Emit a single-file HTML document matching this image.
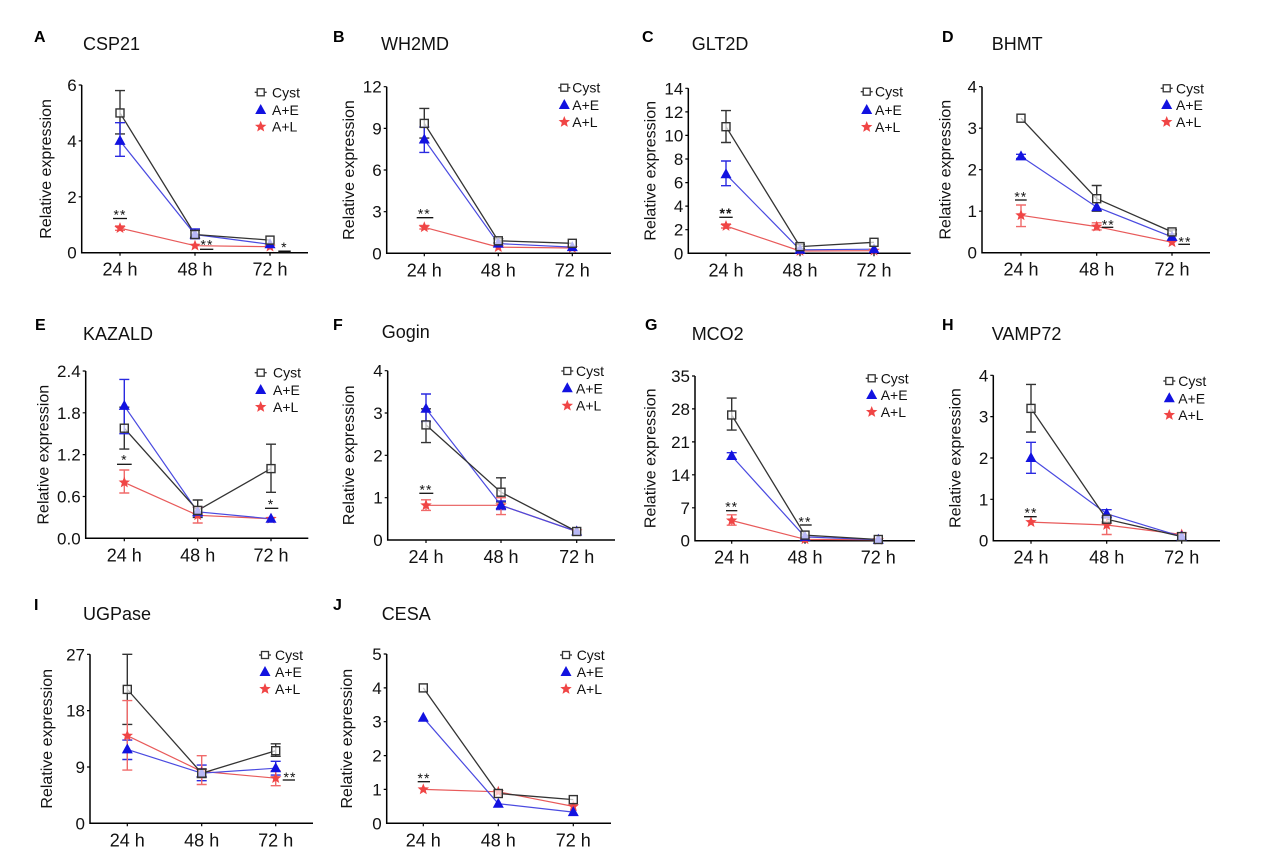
<!DOCTYPE html>
<html><head><meta charset="utf-8"><style>
html,body{margin:0;padding:0;background:#fff;}
svg{display:block;font-family:"Liberation Sans",Arial,sans-serif;}
.ax{stroke:#000;stroke-width:1.5;fill:none;}
.tk{stroke:#000;stroke-width:1.2;fill:none;}
.lt{font-size:16px;font-weight:bold;fill:#000;}
.ti{font-size:18px;fill:#111;}
.yt{font-size:17px;fill:#111;text-anchor:end;}
.xt{font-size:18px;fill:#111;text-anchor:middle;}
.yl{font-size:16px;fill:#111;text-anchor:middle;}
.lg{font-size:14px;fill:#111;}
.lc{stroke:#333;stroke-width:1.3;fill:none;}
.le{stroke:#4a4ae0;stroke-width:1.2;fill:none;}
.ll{stroke:#e85a5a;stroke-width:1.2;fill:none;}
.ec{stroke:#333;stroke-width:1.4;fill:none;}
.ee{stroke:#2a2ae0;stroke-width:1.4;fill:none;}
.el{stroke:#f06a6a;stroke-width:1.4;fill:none;}
.sg{font-size:14px;fill:#111;text-anchor:middle;letter-spacing:1px;}
.sl{stroke:#111;stroke-width:1.3;fill:none;}
</style></head><body>
<svg width="1274" height="860" viewBox="0 0 1274 860" xmlns="http://www.w3.org/2000/svg">
<defs>
<g id="sq"><rect x="-4" y="-4" width="8" height="8" fill="#fff" fill-opacity="0.7" stroke="#333" stroke-width="1.4"/></g>
<g id="tri"><polygon points="0,-6 5.5,4 -5.5,4" fill="#1212e0"/></g>
<g id="st"><polygon points="0,-6 1.53,-2.10 5.71,-1.85 2.47,0.80 3.53,4.85 0,2.6 -3.53,4.85 -2.47,0.80 -5.71,-1.85 -1.53,-2.10" fill="#f04545"/></g>
<g id="lsq"><line x1="-6" y1="0" x2="6" y2="0" stroke="#333" stroke-width="1.3"/><rect x="-3.5" y="-3.5" width="7" height="7" fill="#fff" stroke="#333" stroke-width="1.3"/></g>
</defs>

<!-- ===== Panel A ===== -->
<text class="lt" x="34" y="42">A</text>
<text class="ti" x="83" y="50">CSP21</text>
<path class="ax" d="M81.7 85 V252.7 H308"/>
<path class="tk" d="M78.7 85H81.7M78.7 140.9H81.7M78.7 196.8H81.7M120 252.7v3M195 252.7v3M270 252.7v3"/>
<text class="yt" x="76.7" y="91">6</text><text class="yt" x="76.7" y="146.9">4</text><text class="yt" x="76.7" y="202.8">2</text><text class="yt" x="76.7" y="258.7">0</text>
<text class="xt" x="120" y="275.7">24 h</text><text class="xt" x="195" y="275.7">48 h</text><text class="xt" x="270" y="275.7">72 h</text>
<text class="yl" transform="translate(51,168.9) rotate(-90)">Relative expression</text>
<polyline class="ll" points="120,228.1 195,245.7 270,246.7"/>
<polyline class="le" points="120,140.9 195,234.5 270,244.3"/>
<polyline class="lc" points="120,112.95 195,234.5 270,240.1"/>
<path class="ec" d="M115 133.9H125M120 133.9V90.6M115 90.6H125M190 237.3H200M195 237.3V230.3M190 230.3H200"/>
<path class="ee" d="M115 156.3H125M120 156.3V122.7M115 122.7H125M190 238.7H200M195 238.7V228.9M190 228.9H200"/>
<path class="el" d="M115 230.3H125M120 230.3V225.9M115 225.9H125"/>
<use href="#st" x="120" y="228.1"/><use href="#st" x="195" y="245.7"/><use href="#st" x="270" y="246.7"/>
<use href="#tri" x="120" y="140.9"/><use href="#tri" x="195" y="234.5"/><use href="#tri" x="270" y="244.3"/>
<use href="#sq" x="120" y="112.95"/><use href="#sq" x="195" y="234.5"/><use href="#sq" x="270" y="240.1"/>
<text class="sg" x="120" y="219.7">**</text><path class="sl" d="M113 218.5H127"/>
<text class="sg" x="207" y="249.7">**</text><path class="sl" d="M200 249.3H213.3"/>
<text class="sg" x="284.3" y="252">*</text><path class="sl" d="M278.3 251.5H290.7" style="stroke-width:2"/>
<use href="#lsq" x="260.7" y="92.3"/><text class="lg" x="272" y="97.3">Cyst</text>
<use href="#tri" x="260.7" y="110"/><text class="lg" x="272" y="115">A+E</text>
<use href="#st" x="260.7" y="126.7"/><text class="lg" x="272" y="131.7">A+L</text>

<!-- ===== Panel B ===== -->
<text class="lt" x="333" y="42">B</text>
<text class="ti" x="381" y="50">WH2MD</text>
<path class="ax" d="M386.7 86.7 V253.3 H611"/>
<path class="tk" d="M383.7 86.7H386.7M383.7 128.4H386.7M383.7 170H386.7M383.7 211.7H386.7M424.3 253.3v3M498.3 253.3v3M572.3 253.3v3"/>
<text class="yt" x="381.7" y="92.7">12</text><text class="yt" x="381.7" y="134.4">9</text><text class="yt" x="381.7" y="176">6</text><text class="yt" x="381.7" y="217.7">3</text><text class="yt" x="381.7" y="259.3">0</text>
<text class="xt" x="424.3" y="276.3">24 h</text><text class="xt" x="498.3" y="276.3">48 h</text><text class="xt" x="572.3" y="276.3">72 h</text>
<text class="yl" transform="translate(354,170) rotate(-90)">Relative expression</text>
<polyline class="ll" points="424.3,227.3 498.3,247.1 572.3,248"/>
<polyline class="le" points="424.3,139.5 498.3,243.6 572.3,247.1"/>
<polyline class="lc" points="424.3,123.4 498.3,240.8 572.3,243.3"/>
<path class="ec" d="M419.3 138.1H429.3M424.3 138.1V108.4M419.3 108.4H429.3M493.3 242.9H503.3M498.3 242.9V238.7M493.3 238.7H503.3"/>
<path class="ee" d="M419.3 152.4H429.3M424.3 152.4V127M419.3 127H429.3"/>
<path class="el" d="M419.3 229H429.3M424.3 229V225.5M419.3 225.5H429.3"/>
<use href="#st" x="424.3" y="227.3"/><use href="#st" x="498.3" y="247.1"/><use href="#st" x="572.3" y="248"/>
<use href="#tri" x="424.3" y="139.5"/><use href="#tri" x="498.3" y="243.6"/><use href="#tri" x="572.3" y="247.1"/>
<use href="#sq" x="424.3" y="123.4"/><use href="#sq" x="498.3" y="240.8"/><use href="#sq" x="572.3" y="243.3"/>
<text class="sg" x="424.3" y="218.7">**</text><path class="sl" d="M416.7 217.7H433.3"/>
<use href="#lsq" x="564.3" y="87.7"/><text class="lg" x="572.3" y="92.7">Cyst</text>
<use href="#tri" x="564.3" y="105"/><text class="lg" x="572.3" y="110">A+E</text>
<use href="#st" x="564.3" y="122"/><text class="lg" x="572.3" y="127">A+L</text>

<!-- ===== Panel C ===== -->
<text class="lt" x="642" y="42">C</text>
<text class="ti" x="691.7" y="50">GLT2D</text>
<path class="ax" d="M688.3 88.3 V253.3 H910.7"/>
<path class="tk" d="M685.3 88.3H688.3M685.3 111.9H688.3M685.3 135.4H688.3M685.3 159H688.3M685.3 182.6H688.3M685.3 206.1H688.3M685.3 229.7H688.3M726 253.3v3M800 253.3v3M874 253.3v3"/>
<text class="yt" x="683.3" y="94.3">14</text><text class="yt" x="683.3" y="117.9">12</text><text class="yt" x="683.3" y="141.4">10</text><text class="yt" x="683.3" y="165">8</text><text class="yt" x="683.3" y="188.6">6</text><text class="yt" x="683.3" y="212.1">4</text><text class="yt" x="683.3" y="235.7">2</text><text class="yt" x="683.3" y="259.3">0</text>
<text class="xt" x="726" y="276.3">24 h</text><text class="xt" x="800" y="276.3">48 h</text><text class="xt" x="874" y="276.3">72 h</text>
<text class="yl" transform="translate(655.5,170.8) rotate(-90)">Relative expression</text>
<polyline class="ll" points="726,226 800,251 874,250.7"/>
<polyline class="le" points="726,174.3 800,249.8 874,249.2"/>
<polyline class="lc" points="726,126.7 800,246.6 874,242.3"/>
<path class="ec" d="M721 142.5H731M726 142.5V110.6M721 110.6H731M795 248.6H805M800 248.6V244.5M795 244.5H805"/>
<path class="ee" d="M721 185.7H731M726 185.7V161M721 161H731"/>
<path class="el" d="M721 228H731M726 228V224M721 224H731"/>
<use href="#st" x="726" y="226"/><use href="#st" x="800" y="251"/><use href="#st" x="874" y="250.7"/>
<use href="#tri" x="726" y="174.3"/><use href="#tri" x="800" y="249.8"/><use href="#tri" x="874" y="249.2"/>
<use href="#sq" x="726" y="126.7"/><use href="#sq" x="800" y="246.6"/><use href="#sq" x="874" y="242.3"/>
<text class="sg" x="726" y="218" style="font-weight:bold">**</text><path class="sl" d="M719.3 217.3H732.7"/>
<use href="#lsq" x="866.7" y="91.7"/><text class="lg" x="875" y="96.7">Cyst</text>
<use href="#tri" x="866.7" y="110"/><text class="lg" x="875" y="115">A+E</text>
<use href="#st" x="866.7" y="127"/><text class="lg" x="875" y="132">A+L</text>

<!-- ===== Panel D ===== -->
<text class="lt" x="942" y="42">D</text>
<text class="ti" x="991.7" y="50">BHMT</text>
<path class="ax" d="M982 86.7 V252.7 H1210"/>
<path class="tk" d="M979 86.7H982M979 128.2H982M979 169.7H982M979 211.2H982M1021 252.7v3M1096.7 252.7v3M1172 252.7v3"/>
<text class="yt" x="977" y="92.7">4</text><text class="yt" x="977" y="134.2">3</text><text class="yt" x="977" y="175.7">2</text><text class="yt" x="977" y="217.2">1</text><text class="yt" x="977" y="258.7">0</text>
<text class="xt" x="1021" y="275.7">24 h</text><text class="xt" x="1096.7" y="275.7">48 h</text><text class="xt" x="1172" y="275.7">72 h</text>
<text class="yl" transform="translate(950.5,169.7) rotate(-90)">Relative expression</text>
<polyline class="ll" points="1021,215.3 1096.7,226.6 1172,242.3"/>
<polyline class="le" points="1021,156.4 1096.7,207.1 1172,236.9"/>
<polyline class="lc" points="1021,118.2 1096.7,198.7 1172,231.9"/>
<path class="ec" d="M1091.7 211.2H1101.7M1096.7 211.2V185.5M1091.7 185.5H1101.7M1167 234H1177M1172 234V229.8M1167 229.8H1177"/>
<path class="ee" d="M1016 158.5H1026M1021 158.5V154.3M1016 154.3H1026"/>
<path class="el" d="M1016 226.6H1026M1021 226.6V205M1016 205H1026M1091.7 229.9H1101.7M1096.7 229.9V222.8M1091.7 222.8H1101.7"/>
<use href="#st" x="1021" y="215.3"/><use href="#st" x="1096.7" y="226.6"/><use href="#st" x="1172" y="242.3"/>
<use href="#tri" x="1021" y="156.4"/><use href="#tri" x="1096.7" y="207.1"/><use href="#tri" x="1172" y="236.9"/>
<use href="#sq" x="1021" y="118.2"/><use href="#sq" x="1096.7" y="198.7"/><use href="#sq" x="1172" y="231.9"/>
<text class="sg" x="1020.8" y="201.3">**</text><path class="sl" d="M1015 200H1026.7"/>
<text class="sg" x="1108.3" y="229.7">**</text><path class="sl" d="M1101.7 227.3H1113.3"/>
<text class="sg" x="1185" y="246.3">**</text><path class="sl" d="M1178.3 244.3H1190"/>
<use href="#lsq" x="1166.7" y="88.3"/><text class="lg" x="1176" y="93.3">Cyst</text>
<use href="#tri" x="1166.7" y="105"/><text class="lg" x="1176" y="110">A+E</text>
<use href="#st" x="1166.7" y="122"/><text class="lg" x="1176" y="127">A+L</text>

<!-- ===== Panel E ===== -->
<text class="lt" x="35" y="330">E</text>
<text class="ti" x="83" y="340">KAZALD</text>
<path class="ax" d="M85.7 371 V538.3 H308.3"/>
<path class="tk" d="M82.7 371H85.7M82.7 412.8H85.7M82.7 454.6H85.7M82.7 496.5H85.7M124.3 538.3v3M197.7 538.3v3M271 538.3v3"/>
<text class="yt" x="80.7" y="377">2.4</text><text class="yt" x="80.7" y="418.8">1.8</text><text class="yt" x="80.7" y="460.6">1.2</text><text class="yt" x="80.7" y="502.5">0.6</text><text class="yt" x="80.7" y="544.3">0.0</text>
<text class="xt" x="124.3" y="561.3">24 h</text><text class="xt" x="197.7" y="561.3">48 h</text><text class="xt" x="271" y="561.3">72 h</text>
<text class="yl" transform="translate(48.5,454.7) rotate(-90)">Relative expression</text>
<polyline class="ll" points="124.3,482.5 197.7,515.3 271,518.8"/>
<polyline class="le" points="124.3,405.9 197.7,511.8 271,518.8"/>
<polyline class="lc" points="124.3,428.2 197.7,510.4 271,468.6"/>
<path class="ec" d="M119.3 449.1H129.3M124.3 449.1V407.2M119.3 407.2H129.3M192.7 517.4H202.7M197.7 517.4V500M192.7 500H202.7M266 492.3H276M271 492.3V444.2M266 444.2H276"/>
<path class="ee" d="M119.3 433.7H129.3M124.3 433.7V379.4M119.3 379.4H129.3M192.7 516H202.7M197.7 516V507M192.7 507H202.7"/>
<path class="el" d="M119.3 493H129.3M124.3 493V470M119.3 470H129.3M192.7 523H202.7M197.7 523V507M192.7 507H202.7"/>
<use href="#st" x="124.3" y="482.5"/><use href="#st" x="197.7" y="515.3"/><use href="#st" x="271" y="518.8"/>
<use href="#tri" x="124.3" y="405.9"/><use href="#tri" x="197.7" y="511.8"/><use href="#tri" x="271" y="518.8"/>
<use href="#sq" x="124.3" y="428.2"/><use href="#sq" x="197.7" y="510.4"/><use href="#sq" x="271" y="468.6"/>
<text class="sg" x="124.3" y="464.7">*</text><path class="sl" d="M117 464.3H131.7"/>
<text class="sg" x="271" y="509">*</text><path class="sl" d="M265 508.3H278.3"/>
<use href="#lsq" x="260.7" y="372.7"/><text class="lg" x="273" y="377.7">Cyst</text>
<use href="#tri" x="260.7" y="390"/><text class="lg" x="273" y="395">A+E</text>
<use href="#st" x="260.7" y="407"/><text class="lg" x="273" y="412">A+L</text>

<!-- ===== Panel F ===== -->
<text class="lt" x="333" y="330">F</text>
<text class="ti" x="381.7" y="338">Gogin</text>
<path class="ax" d="M387.7 370.7 V540 H615"/>
<path class="tk" d="M384.7 370.7H387.7M384.7 413H387.7M384.7 455.3H387.7M384.7 497.7H387.7M426 540v3M501 540v3M576.7 540v3"/>
<text class="yt" x="382.7" y="376.7">4</text><text class="yt" x="382.7" y="419">3</text><text class="yt" x="382.7" y="461.3">2</text><text class="yt" x="382.7" y="503.7">1</text><text class="yt" x="382.7" y="546">0</text>
<text class="xt" x="426" y="563">24 h</text><text class="xt" x="501" y="563">48 h</text><text class="xt" x="576.7" y="563">72 h</text>
<text class="yl" transform="translate(353.8,455.3) rotate(-90)">Relative expression</text>
<polyline class="ll" points="426,505.3 501,505.3 576.7,531.5"/>
<polyline class="le" points="426,408.8 501,505.3 576.7,531.5"/>
<polyline class="lc" points="426,424.9 501,492.2 576.7,531.5"/>
<path class="ec" d="M421 442.6H431M426 442.6V408.8M421 408.8H431M496 501.9H506M501 501.9V477.8M496 477.8H506"/>
<path class="ee" d="M421 421.5H431M426 421.5V394M421 394H431M496 509.5H506M501 509.5V501M496 501H506"/>
<path class="el" d="M421 510.4H431M426 510.4V499.8M421 499.8H431M496 514.6H506M501 514.6V497.7M496 497.7H506"/>
<use href="#st" x="426" y="505.3"/><use href="#st" x="501" y="505.3"/><use href="#st" x="576.7" y="531.5"/>
<use href="#tri" x="426" y="408.8"/><use href="#tri" x="501" y="505.3"/><use href="#tri" x="576.7" y="531.5"/>
<use href="#sq" x="426" y="424.9"/><use href="#sq" x="501" y="492.2"/><use href="#sq" x="576.7" y="531.5"/>
<text class="sg" x="426" y="494.7">**</text><path class="sl" d="M419.3 493.3H433.3"/>
<use href="#lsq" x="567.3" y="371"/><text class="lg" x="576" y="376">Cyst</text>
<use href="#tri" x="567.3" y="388.3"/><text class="lg" x="576" y="393.3">A+E</text>
<use href="#st" x="567.3" y="405.7"/><text class="lg" x="576" y="410.7">A+L</text>

<!-- ===== Panel G ===== -->
<text class="lt" x="645" y="330">G</text>
<text class="ti" x="691.7" y="340">MCO2</text>
<path class="ax" d="M695 376 V540.7 H915"/>
<path class="tk" d="M692 376H695M692 408.9H695M692 441.9H695M692 474.8H695M692 507.8H695M731.7 540.7v3M805 540.7v3M878.3 540.7v3"/>
<text class="yt" x="690" y="382">35</text><text class="yt" x="690" y="414.9">28</text><text class="yt" x="690" y="447.9">21</text><text class="yt" x="690" y="480.8">14</text><text class="yt" x="690" y="513.8">7</text><text class="yt" x="690" y="546.7">0</text>
<text class="xt" x="731.7" y="563.7">24 h</text><text class="xt" x="805" y="563.7">48 h</text><text class="xt" x="878.3" y="563.7">72 h</text>
<text class="yl" transform="translate(655.5,458.3) rotate(-90)">Relative expression</text>
<polyline class="ll" points="731.7,520.5 805,539.3 878.3,539.8"/>
<polyline class="le" points="731.7,456 805,536.9 878.3,539.8"/>
<polyline class="lc" points="731.7,415 805,535.1 878.3,539.5"/>
<path class="ec" d="M726.7 430.1H736.7M731.7 430.1V398.1M726.7 398.1H736.7"/>
<path class="ee" d="M726.7 459.3H736.7M731.7 459.3V452.7M726.7 452.7H736.7"/>
<path class="el" d="M726.7 525.2H736.7M731.7 525.2V514.8M726.7 514.8H736.7"/>
<use href="#st" x="731.7" y="520.5"/><use href="#st" x="805" y="539.3"/><use href="#st" x="878.3" y="539.8"/>
<use href="#tri" x="731.7" y="456"/><use href="#tri" x="805" y="536.9"/><use href="#tri" x="878.3" y="539.8"/>
<use href="#sq" x="731.7" y="415"/><use href="#sq" x="805" y="535.1"/><use href="#sq" x="878.3" y="539.5"/>
<text class="sg" x="731.7" y="511.3">**</text><path class="sl" d="M726 510.7H737.3"/>
<text class="sg" x="805" y="526.3">**</text><path class="sl" d="M800 525H811.7"/>
<use href="#lsq" x="871.7" y="378.3"/><text class="lg" x="880.7" y="383.3">Cyst</text>
<use href="#tri" x="871.7" y="395"/><text class="lg" x="880.7" y="400">A+E</text>
<use href="#st" x="871.7" y="412"/><text class="lg" x="880.7" y="417">A+L</text>

<!-- ===== Panel H ===== -->
<text class="lt" x="942" y="330">H</text>
<text class="ti" x="991.7" y="340">VAMP72</text>
<path class="ax" d="M993.3 375.3 V540.7 H1220"/>
<path class="tk" d="M990.3 375.3H993.3M990.3 416.6H993.3M990.3 458H993.3M990.3 499.3H993.3M1031 540.7v3M1106.7 540.7v3M1181.7 540.7v3"/>
<text class="yt" x="988.3" y="381.3">4</text><text class="yt" x="988.3" y="422.6">3</text><text class="yt" x="988.3" y="464">2</text><text class="yt" x="988.3" y="505.3">1</text><text class="yt" x="988.3" y="546.7">0</text>
<text class="xt" x="1031" y="563.7">24 h</text><text class="xt" x="1106.7" y="563.7">48 h</text><text class="xt" x="1181.7" y="563.7">72 h</text>
<text class="yl" transform="translate(960.5,458) rotate(-90)">Relative expression</text>
<polyline class="ll" points="1031,522.1 1106.7,525 1181.7,534.5"/>
<polyline class="le" points="1031,458 1106.7,513.8 1181.7,536.6"/>
<polyline class="lc" points="1031,408.4 1106.7,519.2 1181.7,536.6"/>
<path class="ec" d="M1026 432H1036M1031 432V384.4M1026 384.4H1036M1101.7 522H1111.7M1106.7 522V515.9M1101.7 515.9H1111.7"/>
<path class="ee" d="M1026 473.3H1036M1031 473.3V442.3M1026 442.3H1036M1101.7 518H1111.7M1106.7 518V509.7M1101.7 509.7H1111.7"/>
<path class="el" d="M1101.7 534.5H1111.7M1106.7 534.5V515.9M1101.7 515.9H1111.7"/>
<use href="#st" x="1031" y="522.1"/><use href="#st" x="1106.7" y="525"/><use href="#st" x="1181.7" y="534.5"/>
<use href="#tri" x="1031" y="458"/><use href="#tri" x="1106.7" y="513.8"/><use href="#tri" x="1181.7" y="536.6"/>
<use href="#sq" x="1031" y="408.4"/><use href="#sq" x="1106.7" y="519.2"/><use href="#sq" x="1181.7" y="536.6"/>
<text class="sg" x="1031" y="517.3">**</text><path class="sl" d="M1024 516.7H1036.7"/>
<use href="#lsq" x="1169.3" y="381"/><text class="lg" x="1178.3" y="386">Cyst</text>
<use href="#tri" x="1169.3" y="398.3"/><text class="lg" x="1178.3" y="403.3">A+E</text>
<use href="#st" x="1169.3" y="415"/><text class="lg" x="1178.3" y="420">A+L</text>

<!-- ===== Panel I ===== -->
<text class="lt" x="34" y="610">I</text>
<text class="ti" x="83" y="620">UGPase</text>
<path class="ax" d="M90 654.3 V823.3 H313"/>
<path class="tk" d="M87 654.3H90M87 710.6H90M87 767H90M127.3 823.3v3M201.7 823.3v3M275.7 823.3v3"/>
<text class="yt" x="85" y="660.3">27</text><text class="yt" x="85" y="716.6">18</text><text class="yt" x="85" y="773">9</text><text class="yt" x="85" y="829.3">0</text>
<text class="xt" x="127.3" y="846.3">24 h</text><text class="xt" x="201.7" y="846.3">48 h</text><text class="xt" x="275.7" y="846.3">72 h</text>
<text class="yl" transform="translate(52.2,738.8) rotate(-90)">Relative expression</text>
<polyline class="ll" points="127.3,735.7 201.7,771.4 275.7,778.2"/>
<polyline class="le" points="127.3,749.4 201.7,773.2 275.7,768.2"/>
<polyline class="lc" points="127.3,689.4 201.7,773.2 275.7,750.7"/>
<path class="ec" d="M122.3 724.4H132.3M127.3 724.4V654.3M122.3 654.3H132.3M196.7 777.6H206.7M201.7 777.6V768.8M196.7 768.8H206.7M270.7 756.3H280.7M275.7 756.3V743.8M270.7 743.8H280.7"/>
<path class="ee" d="M122.3 759.5H132.3M127.3 759.5V740.1M122.3 740.1H132.3M196.7 780.7H206.7M201.7 780.7V765.1M196.7 765.1H206.7M270.7 775.1H280.7M275.7 775.1V761.3M270.7 761.3H280.7"/>
<path class="el" d="M122.3 770.1H132.3M127.3 770.1V700.6M122.3 700.6H132.3M196.7 784.5H206.7M201.7 784.5V755.7M196.7 755.7H206.7M270.7 785.7H280.7M275.7 785.7V770.7M270.7 770.7H280.7"/>
<use href="#st" x="127.3" y="735.7"/><use href="#st" x="201.7" y="771.4"/><use href="#st" x="275.7" y="778.2"/>
<use href="#tri" x="127.3" y="749.4"/><use href="#tri" x="201.7" y="773.2"/><use href="#tri" x="275.7" y="768.2"/>
<use href="#sq" x="127.3" y="689.4"/><use href="#sq" x="201.7" y="773.2"/><use href="#sq" x="275.7" y="750.7"/>
<text class="sg" x="290" y="782">**</text><path class="sl" d="M282.7 780H295"/>
<use href="#lsq" x="265" y="655"/><text class="lg" x="275" y="660">Cyst</text>
<use href="#tri" x="265" y="672"/><text class="lg" x="275" y="677">A+E</text>
<use href="#st" x="265" y="689"/><text class="lg" x="275" y="694">A+L</text>

<!-- ===== Panel J ===== -->
<text class="lt" x="333" y="610">J</text>
<text class="ti" x="381.7" y="620">CESA</text>
<path class="ax" d="M386.7 654 V823.3 H611"/>
<path class="tk" d="M383.7 654H386.7M383.7 687.9H386.7M383.7 721.7H386.7M383.7 755.6H386.7M383.7 789.4H386.7M423.3 823.3v3M498.3 823.3v3M573.3 823.3v3"/>
<text class="yt" x="381.7" y="660">5</text><text class="yt" x="381.7" y="693.9">4</text><text class="yt" x="381.7" y="727.7">3</text><text class="yt" x="381.7" y="761.6">2</text><text class="yt" x="381.7" y="795.4">1</text><text class="yt" x="381.7" y="829.3">0</text>
<text class="xt" x="423.3" y="846.3">24 h</text><text class="xt" x="498.3" y="846.3">48 h</text><text class="xt" x="573.3" y="846.3">72 h</text>
<text class="yl" transform="translate(352.2,738.7) rotate(-90)">Relative expression</text>
<polyline class="ll" points="423.3,789.4 498.3,791.8 573.3,806.4"/>
<polyline class="le" points="423.3,717.7 498.3,803.7 573.3,812.1"/>
<polyline class="lc" points="423.3,687.9 498.3,793.5 573.3,799.6"/>
<use href="#st" x="423.3" y="789.4"/><use href="#st" x="498.3" y="791.8"/><use href="#st" x="573.3" y="806.4"/>
<use href="#tri" x="423.3" y="717.7"/><use href="#tri" x="498.3" y="803.7"/><use href="#tri" x="573.3" y="812.1"/>
<use href="#sq" x="423.3" y="687.9"/><use href="#sq" x="498.3" y="793.5"/><use href="#sq" x="573.3" y="799.6"/>
<text class="sg" x="424" y="783">**</text><path class="sl" d="M417.7 781.7H430"/>
<use href="#lsq" x="566" y="655"/><text class="lg" x="576.7" y="660">Cyst</text>
<use href="#tri" x="566" y="672"/><text class="lg" x="576.7" y="677">A+E</text>
<use href="#st" x="566" y="689"/><text class="lg" x="576.7" y="694">A+L</text>
</svg>
</body></html>
